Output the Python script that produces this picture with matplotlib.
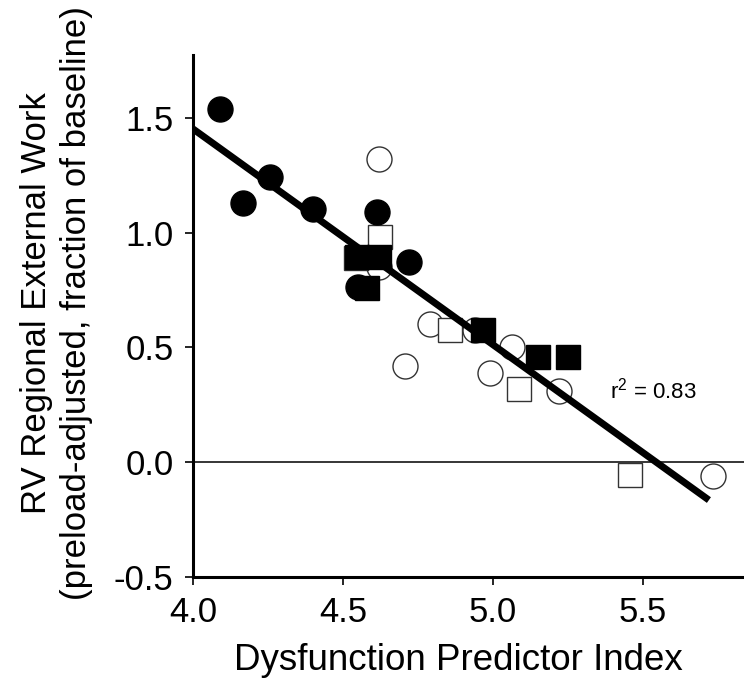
import numpy as np
import matplotlib
matplotlib.use("Agg")
import matplotlib.pyplot as plt

plt.rcParams["font.family"] = ["Liberation Sans", "DejaVu Sans"]
plt.rcParams["mathtext.fontset"] = "custom"
plt.rcParams["mathtext.rm"] = "Liberation Sans"
plt.rcParams["mathtext.it"] = "Liberation Sans:italic"

# data
filled_circle_x = [4.09, 4.166, 4.257, 4.40, 4.613, 4.72, 4.55]
filled_circle_y = [1.54, 1.13, 1.243, 1.104, 1.09, 0.87, 0.765]

filled_square_x = [4.547, 4.62, 4.58, 4.967, 5.15, 5.25]
filled_square_y = [0.896, 0.896, 0.76, 0.578, 0.457, 0.46]

open_circle_x = [4.62, 4.62, 4.79, 4.707, 4.94, 5.063, 4.99, 5.22, 5.733]
open_circle_y = [1.32, 0.85, 0.60, 0.42, 0.578, 0.50, 0.39, 0.31, -0.06]

open_square_x = [4.623, 4.543, 4.857, 5.087, 5.457]
open_square_y = [0.98, 0.89, 0.578, 0.317, -0.057]

fit_x = [4.0, 5.72]
fit_y = [1.452, -0.165]

x_ticks = [4.0, 4.5, 5.0, 5.5]
y_ticks = [-0.5, 0.0, 0.5, 1.0, 1.5]

fig = plt.figure(figsize=(7.44, 6.89), dpi=100)
ax = fig.add_axes([0.2594, 0.1626, 0.7406, 0.7576])

ax.axhline(0, color="black", lw=1.1, zorder=1)

ax.plot(open_circle_x, open_circle_y, "o", ms=18, mfc="white", mec="#333333", mew=1.0, zorder=2)
ax.plot(open_square_x, open_square_y, "s", ms=17, mfc="white", mec="#333333", mew=1.0, zorder=2)
ax.plot(filled_circle_x, filled_circle_y, "o", ms=18, mfc="black", mec="black", zorder=3)
ax.plot(filled_square_x, filled_square_y, "s", ms=17, mfc="black", mec="black", zorder=3)

ax.plot(fit_x, fit_y, color="black", lw=5, solid_capstyle="butt", zorder=4)

ax.text(5.39, 0.31, r"r$^2$ = 0.83", fontsize=16, va="center", ha="left")

ax.set_xlim(4.0, 5.837)
ax.set_ylim(-0.5, 1.774)
ax.set_xticks(x_ticks)
ax.set_xticklabels([f"{v:.1f}" for v in x_ticks])
ax.set_yticks(y_ticks)
ax.set_yticklabels([f"{v:.1f}" for v in y_ticks])
ax.tick_params(labelsize=25, length=6, width=1.2)
ax.tick_params(axis="x", pad=8)
ax.tick_params(axis="y", pad=8)

for s in ["top", "right"]:
    ax.spines[s].set_visible(False)
for s in ["left", "bottom"]:
    ax.spines[s].set_linewidth(2.2)

ax.set_xlabel("Dysfunction Predictor Index", fontsize=26.5)
ax.xaxis.set_label_coords(0.481, -0.126)
fig.text(0.076, 0.56, "RV Regional External Work\n(preload-adjusted, fraction of baseline)",
         rotation=90, fontsize=25, ha="center", va="center", multialignment="center",
         linespacing=1.25)

fig.savefig("out.png", dpi=100)
